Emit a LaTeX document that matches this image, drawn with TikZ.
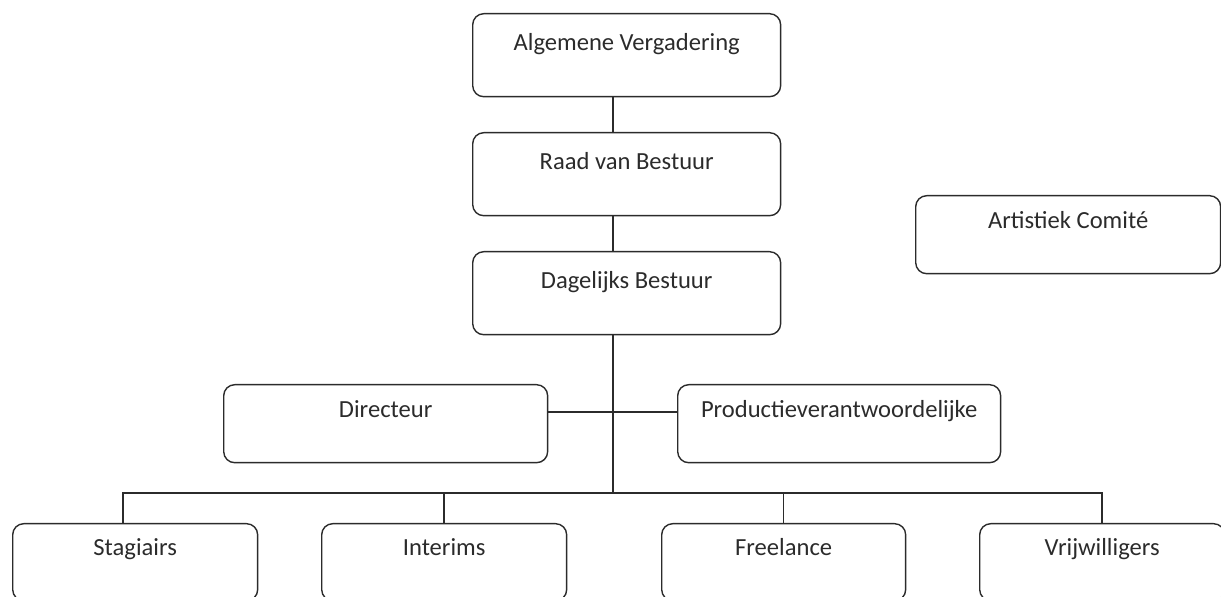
\documentclass[tikz,border=0pt]{standalone}
\usepackage{fontspec}
\setmainfont{Carlito}
\usepackage{tikz}
\usetikzlibrary{positioning}
\definecolor{edge}{HTML}{2B2B2B}

\begin{document}
\begin{tikzpicture}[x=0.02cm, y=-0.02cm, line width=0.8pt, draw=edge,
    every node/.style={font=\fontsize{14}{16}\selectfont, text=edge, draw=edge, line width=0.8pt, rounded corners=0.22cm, align=center, anchor=north west, inner ysep=0pt},
    topbox/.style={minimum width=6.16cm, text height=0.74cm, text depth=0.92cm},
    midbox/.style={text height=0.66cm, text depth=0.9cm},
    lowbox/.style={minimum width=4.9cm, text height=0.64cm, text depth=0.9cm}]
    \useasboundingbox (0,0) rectangle (1221,597);
    % top column
    \node (alg)  [topbox] at (472,13)  {Algemene Vergadering};
    \node (raad) [topbox] at (472,132) {Raad van Bestuur};
    \node (dag)  [topbox] at (472,251) {Dagelijks Bestuur};
    \node (art)  [midbox, minimum width=6.1cm] at (915,195) {Artistiek Comit\'e};
    % staff
    \node (dir)  [midbox, minimum width=6.48cm] at (223,384) {Directeur};
    \node (prod) [midbox, minimum width=6.46cm] at (677,384) {Productieverantwoordelijke};
    \node (stag) [lowbox] at (12,523)  {Stagiairs};
    \node (int)  [lowbox] at (321,523) {Interims};
    \node (free) [lowbox, minimum width=4.88cm] at (661,523) {Freelance};
    \node (vrij) [lowbox] at (979,523) {Vrijwilligers};
    \coordinate (spine) at (613,0);
    \coordinate (cross) at (613,412);
    \coordinate (bus)   at (613,493);
    % connectors
    \draw (alg.south -| spine) -- (raad.north -| spine);
    \draw (raad.south -| spine) -- (dag.north -| spine);
    \draw (dag.south -| spine) -- (bus);
    \draw (dir.east |- cross) -- (prod.west |- cross);
    \draw ([xshift=-7pt]stag.north) |- (bus) -| (vrij.north);
    \draw (int.north) -- (int.north |- bus);
    \draw (free.north) -- (free.north |- bus);
\end{tikzpicture}
\end{document}
